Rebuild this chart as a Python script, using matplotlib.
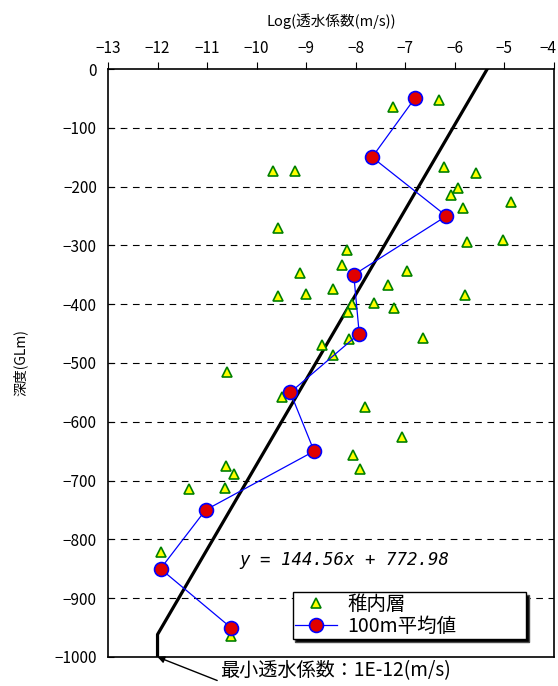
import matplotlib
matplotlib.use("Agg")
import matplotlib.pyplot as plt
import matplotlib.transforms as mtransforms
import numpy as np

plt.rcParams['font.family'] = ['Noto Sans CJK JP', 'DejaVu Sans']

# 稚内層 data: log10 permeability, depth (GLm)
logk = [-6.32, -7.25, -9.67, -9.22, -6.21, -5.57, -5.94, -6.07, -4.86, -5.84,
        -9.57, -5.76, -5.03, -8.17, -8.27, -9.12, -6.96, -7.35, -8.45, -9.57,
        -9.01, -5.80, -8.07, -7.63, -7.23, -8.16, -8.13, -6.64, -8.69, -8.45,
        -10.59, -9.49, -7.81, -7.07, -8.05, -7.91, -10.62, -10.45, -11.36, -10.64,
        -11.93, -10.51]
depth = [-53, -65, -173, -173, -167, -177, -203, -215, -226, -237,
         -271, -295, -291, -307, -333, -347, -343, -368, -374, -386,
         -383, -385, -400, -398, -406, -413, -460, -457, -469, -486,
         -515, -557, -574, -626, -657, -680, -675, -689, -715, -713,
         -821, -964]

# 100m averages
mean_logk = [-6.81, -7.67, -6.17, -8.04, -7.93, -9.32, -8.84, -11.03, -11.94, -10.52]
mean_depth = [-50, -150, -250, -350, -450, -550, -650, -750, -850, -950]

# fit: depth = slope * logk + intercept, capped at minimum permeability
slope = 144.56
intercept = 772.98
min_logk = -12

fig = plt.figure(figsize=(5.58, 6.86), dpi=100)
ax = fig.add_axes([0.1935, 0.0423, 0.7993, 0.8571])

ax.set_xlim(-13, -4)
ax.set_ylim(-1000, 0)
ax.set_xticks(np.arange(-13, -3, 1))
ax.set_yticks(np.arange(-1000, 1, 100))
ax.xaxis.tick_top()
ax.xaxis.set_label_position('top')
ax.tick_params(axis='x', direction='out', length=5, labelsize=11, pad=4)
ax.tick_params(axis='y', direction='in', length=4, labelsize=11, pad=8)
for y in np.arange(-900, 0, 100):
    ax.axhline(y, color='black', lw=0.8, linestyle=(0, (6, 5)), zorder=1)

ax.set_xlabel('Log(透水係数(m/s))', fontsize=10.5, labelpad=10)
ax.set_ylabel('深度(GLm)', fontsize=10, labelpad=19)
for s in ax.spines.values():
    s.set_linewidth(1.2)

# fit line
x_top = -intercept / slope
y_bend = slope * min_logk + intercept
ax.plot([x_top, min_logk, min_logk], [0, y_bend, -1000], color='black', lw=2.3,
        zorder=3)

ax.plot(logk, depth, linestyle='none', marker='^', markersize=7,
        markerfacecolor='#FFFF00', markeredgecolor='#008000', markeredgewidth=1.2,
        label='稚内層', zorder=4)
ax.plot(mean_logk, mean_depth, color='#0000FF', lw=0.9, marker='o', markersize=10,
        markerfacecolor='#E00000', markeredgecolor='#0000FF', markeredgewidth=1.2,
        label='100m平均値', zorder=5)

ax.text(-10.34, -835, 'y = 144.56x + 772.98', family='DejaVu Sans Mono',
        style='italic', fontsize=12.5, va='center', ha='left')

leg = ax.legend(loc='lower left', bbox_to_anchor=(0.414, 0.031, 0.523, 0.081),
                mode='expand', fontsize=14, frameon=True, fancybox=False,
                edgecolor='black', framealpha=1, borderpad=0.1, labelspacing=0.05,
                borderaxespad=0, handlelength=2.2, handletextpad=0.5,
                shadow={'facecolor': 'black', 'alpha': 1})
leg.get_frame().set_linewidth(1.0)
leg.set_zorder(6)

ax.annotate('最小透水係数：1E-12(m/s)', xy=(min_logk, -1000), xytext=(-10.74, -1024),
            fontsize=13.8, va='center', ha='left', annotation_clip=False,
            arrowprops=dict(arrowstyle='-|>', color='black', lw=1.0,
                            mutation_scale=10, relpos=(0, 0), shrinkA=0, shrinkB=0))

# keep the last top tick label inside the figure
fig.canvas.draw()
last = ax.xaxis.get_major_ticks()[-1].label2
last.set_horizontalalignment('right')
last.set_transform(last.get_transform() +
                   mtransforms.ScaledTranslation(2 / 72, 0, fig.dpi_scale_trans))

fig.savefig('out.png', dpi=100)
